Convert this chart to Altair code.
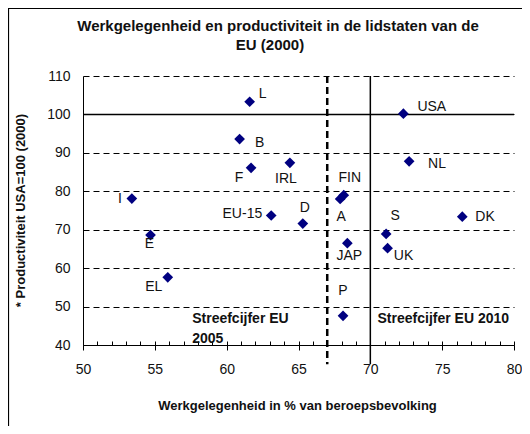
import altair as alt
import pandas as pd

# ---- data ----
countries = ["L", "B", "F", "IRL", "I", "EU-15", "E", "EL", "D", "FIN", "A",
             "USA", "NL", "S", "DK", "UK", "JAP", "P"]
employment = [61.6, 60.9, 61.7, 64.4, 53.4, 63.1, 54.7, 55.9, 65.3, 68.15, 67.9,
              72.3, 72.7, 71.1, 76.4, 71.2, 68.4, 68.1]
productivity = [103.3, 93.6, 86.1, 87.4, 78.1, 73.7, 68.6, 57.6, 71.6, 79.0, 78.0,
                100.2, 87.8, 68.9, 73.4, 65.2, 66.5, 47.6]

# label placement (pixel offsets from the marker, alignment)
label_dx = [13, 20, -12, -4, -12, -9, -1, -14, 2, 6, 1, 14, 19, 9, 13, 16, 2, 0]
label_dy = [-8, 4, 10, 16, 0, -1, 9, 10, -16, -17, 18, -7, 3, -18, 0, 8, 13, -25]
label_align = ["center", "center", "center", "center", "center", "right", "center",
               "center", "center", "center", "center", "left", "left", "center",
               "left", "center", "center", "center"]

annot_text = ["Streefcijfer EU", "2005", "Streefcijfer EU 2010"]
annot_x = [57.6, 57.6, 70.5]
annot_y = [45.8, 40.6, 45.8]

title_lines = ["Werkgelegenheid en productiviteit in de lidstaten van de", "EU (2000)"]

x_ticks = [50, 55, 60, 65, 70, 75, 80]
x_minor = list(range(50, 81))
y_ticks = [40, 50, 60, 70, 80, 90, 100, 110]

target_usa = 100
target_2005 = 67
target_2010 = 70

FONT = "Liberation Sans, Arial"
W, H = 431, 269

xs = alt.Scale(domain=[50, 80], nice=False, zero=False)
ys = alt.Scale(domain=[40, 110], nice=False, zero=False)

df = pd.DataFrame({"land": countries, "x": employment, "y": productivity})


def xe(field="x:Q"):
    return alt.X(field, scale=xs, axis=None)


def ye(field="y:Q"):
    return alt.Y(field, scale=ys, axis=None)


points = alt.Chart(df).mark_point(
    shape="diamond", filled=True, color="#000080", size=115, opacity=1
).encode(
    x=alt.X("x:Q", scale=xs, axis=alt.Axis(
        values=x_ticks, title="Werkgelegenheid in % van beroepsbevolking",
        grid=False, tickSize=5, labelPadding=12, orient="bottom",
        titleX=214, titleY=60, titleFontSize=13, titleFontWeight="bold",
        titleBaseline="middle", labelFlush=False)),
    y=alt.Y("y:Q", scale=ys, axis=alt.Axis(
        values=y_ticks, title="* Productiviteit USA=100 (2000)",
        grid=True, gridDash=[6, 4], gridColor="#000000", gridWidth=1,
        ticks=False, labelPadding=13, titleX=-63, titleY=134,
        titleFontSize=13, titleFontWeight="bold", titleBaseline="middle",
        labelFlush=False, labelOverlap=False)),
)

minor = alt.Chart(df).mark_point(opacity=0).encode(
    x=alt.X("x:Q", scale=xs, axis=alt.Axis(
        values=x_minor, labels=False, domain=False, grid=False, tickSize=4,
        offset=-4, orient="bottom", title=None)),
    y=ye(),
)

hline = alt.Chart(pd.DataFrame({"x": [50], "x2": [80], "y": [target_usa]})).mark_rule(
    color="black", strokeWidth=1.5
).encode(x=xe(), x2="x2:Q", y=ye())

vline = alt.Chart(pd.DataFrame({"x": [target_2010], "y": [110], "y2": [35]})).mark_rule(
    color="black", strokeWidth=1.5
).encode(x=xe(), y=ye(), y2="y2:Q")

dline = alt.Chart(pd.DataFrame({"x": [target_2005], "y": [110], "y2": [35]})).mark_rule(
    color="black", strokeWidth=2.5, strokeDash=[7, 4]
).encode(x=xe(), y=ye(), y2="y2:Q")

labels = []
for i, name in enumerate(countries):
    row = df.iloc[[i]]
    labels.append(
        alt.Chart(row).mark_text(
            dx=label_dx[i], dy=label_dy[i], align=label_align[i], baseline="middle",
            font=FONT, fontSize=14, color="#111111"
        ).encode(x=xe(), y=ye(), text="land:N")
    )

annots = alt.Chart(pd.DataFrame({"t": annot_text, "x": annot_x, "y": annot_y})).mark_text(
    align="left", baseline="alphabetic", font=FONT, fontSize=14, fontWeight="bold",
    color="#111111"
).encode(x=xe(), y=ye(), text="t:N")

title_df = pd.DataFrame({"t": title_lines, "line": [0, 1]})
title1 = alt.Chart(title_df.iloc[[0]]).mark_text(
    align="center", baseline="alphabetic", font=FONT, fontSize=15, fontWeight="bold",
    color="#111111"
).encode(x=alt.value(195), y=alt.value(-45), text="t:N")
title2 = alt.Chart(title_df.iloc[[1]]).mark_text(
    align="center", baseline="alphabetic", font=FONT, fontSize=15, fontWeight="bold",
    color="#111111"
).encode(x=alt.value(187), y=alt.value(-26), text="t:N")

frame = alt.Chart(pd.DataFrame({"a": [0]})).mark_rect(
    fill=None, stroke="black", strokeWidth=1.2
).encode(x=alt.value(-74.5), x2=alt.value(700), y=alt.value(-67.5), y2=alt.value(700))

chart = alt.layer(
    frame, hline, vline, dline, points, minor, *labels, annots, title1, title2
).resolve_axis(x="independent", y="independent").properties(
    width=W, height=H,
    autosize=alt.AutoSizeParams(type="none"),
    padding={"left": 75, "top": 68, "right": 8, "bottom": 81},
).configure_view(stroke=None).configure_axis(
    labelFont=FONT, titleFont=FONT, labelFontSize=14, labelColor="#111111",
    titleColor="#111111", domainColor="black", tickColor="black", domainWidth=1
)

chart.save("out.html", embed_options={"renderer": "svg", "actions": False})
